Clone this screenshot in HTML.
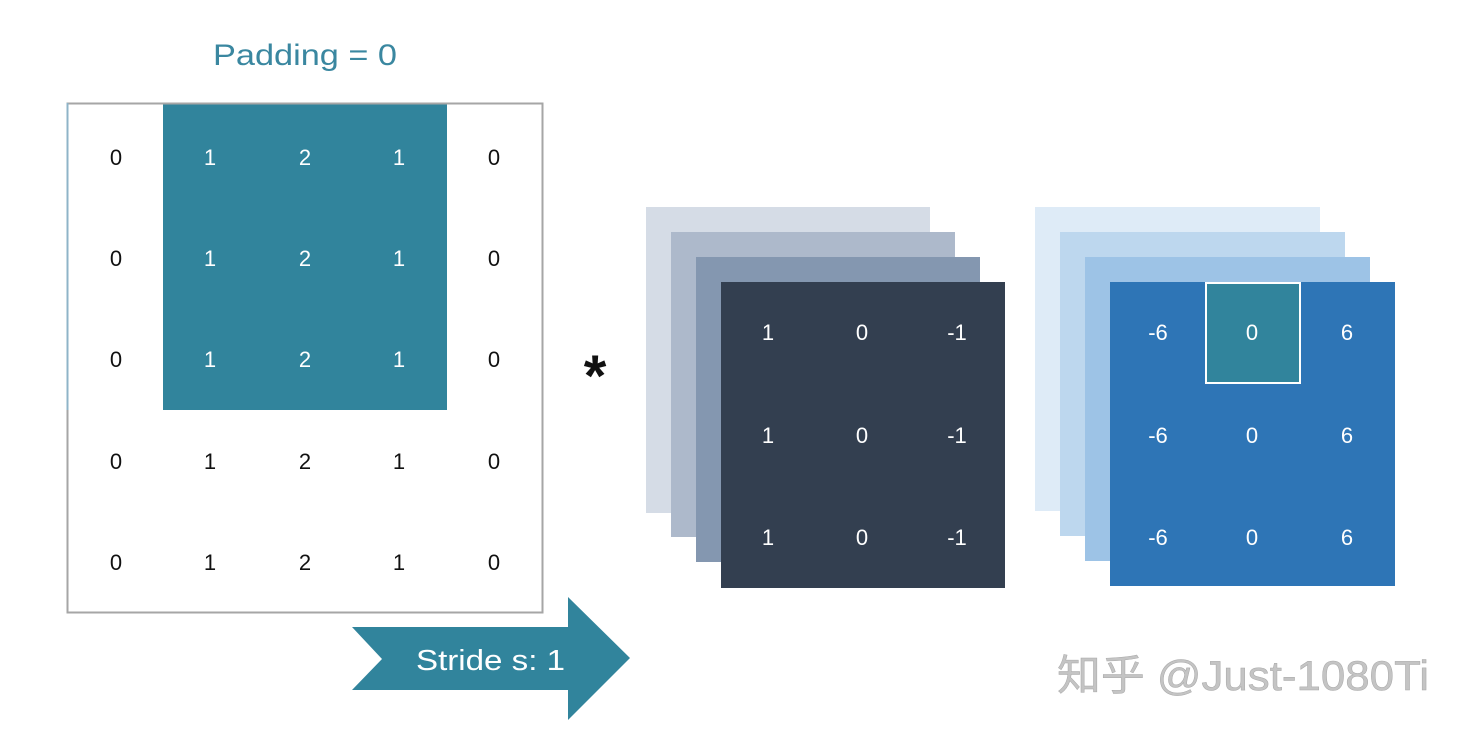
<!DOCTYPE html>
<html><head><meta charset="utf-8">
<style>
html,body{margin:0;padding:0;background:#fff;}
svg{display:block;}
</style></head>
<body>
<svg width="1467" height="731" viewBox="0 0 1467 731" xmlns="http://www.w3.org/2000/svg">
<rect width="1467" height="731" fill="#fff"/>
<text x="213" y="65" font-family="Liberation Sans, sans-serif" font-size="30" fill="#3a87a0" textLength="184" lengthAdjust="spacingAndGlyphs">Padding  = 0</text>

<!-- input grid -->
<rect x="163" y="103" width="284" height="307" fill="#31849c"/>
<rect x="67.5" y="103.5" width="475" height="509" fill="none" stroke="#a6a6a6" stroke-width="2"/>
<line x1="67.5" y1="103" x2="67.5" y2="410" stroke="#8fb4c8" stroke-width="2"/>
<g font-family="Liberation Sans, sans-serif" font-size="22" text-anchor="middle">
<g fill="#111">
<text x="116" y="165">0</text><text x="494" y="165">0</text>
<text x="116" y="266">0</text><text x="494" y="266">0</text>
<text x="116" y="367">0</text><text x="494" y="367">0</text>
<text x="116" y="469">0</text><text x="210" y="469">1</text><text x="305" y="469">2</text><text x="399" y="469">1</text><text x="494" y="469">0</text>
<text x="116" y="570">0</text><text x="210" y="570">1</text><text x="305" y="570">2</text><text x="399" y="570">1</text><text x="494" y="570">0</text>
</g>
<g fill="#fff">
<text x="210" y="165">1</text><text x="305" y="165">2</text><text x="399" y="165">1</text>
<text x="210" y="266">1</text><text x="305" y="266">2</text><text x="399" y="266">1</text>
<text x="210" y="367">1</text><text x="305" y="367">2</text><text x="399" y="367">1</text>
</g>
</g>

<text x="595" y="396" font-family="Liberation Sans, sans-serif" font-size="58" font-weight="bold" fill="#111" text-anchor="middle">*</text>

<!-- filter stack -->
<rect x="646" y="207" width="284" height="306" fill="#d5dce6"/>
<rect x="671" y="232" width="284" height="305" fill="#adb9cb"/>
<rect x="696" y="257" width="284" height="305" fill="#8497b0"/>
<rect x="721" y="282" width="284" height="306" fill="#333f50"/>
<g font-family="Liberation Sans, sans-serif" font-size="22" text-anchor="middle" fill="#fff">
<text x="768" y="340">1</text><text x="862" y="340">0</text><text x="957" y="340">-1</text>
<text x="768" y="443">1</text><text x="862" y="443">0</text><text x="957" y="443">-1</text>
<text x="768" y="545">1</text><text x="862" y="545">0</text><text x="957" y="545">-1</text>
</g>

<!-- output stack -->
<rect x="1035" y="207" width="285" height="304" fill="#deebf7"/>
<rect x="1060" y="232" width="285" height="304" fill="#bdd7ee"/>
<rect x="1085" y="257" width="285" height="304" fill="#9dc3e6"/>
<rect x="1110" y="282" width="285" height="304" fill="#2e75b6"/>
<rect x="1206" y="283" width="94" height="100" fill="#31849c" stroke="#fff" stroke-width="2"/>
<g font-family="Liberation Sans, sans-serif" font-size="22" text-anchor="middle" fill="#fff">
<text x="1158" y="340">-6</text><text x="1252" y="340">0</text><text x="1347" y="340">6</text>
<text x="1158" y="443">-6</text><text x="1252" y="443">0</text><text x="1347" y="443">6</text>
<text x="1158" y="545">-6</text><text x="1252" y="545">0</text><text x="1347" y="545">6</text>
</g>

<!-- arrow -->
<polygon points="352,627 568,627 568,597 630,658 568,720 568,690 352,690 382,659" fill="#31849c"/>
<text x="416" y="670" font-family="Liberation Sans, sans-serif" font-size="29" fill="#fff" textLength="149" lengthAdjust="spacingAndGlyphs">Stride s: 1</text>

<!-- watermark -->
<text x="1057" y="690" font-family="Liberation Sans, 'Noto Sans CJK SC', sans-serif" font-size="42" fill="#c4c4c4" stroke="#a8a8a8" stroke-width="0.5" textLength="372" lengthAdjust="spacingAndGlyphs">知乎 @Just-1080Ti</text>
</svg>
</body></html>
